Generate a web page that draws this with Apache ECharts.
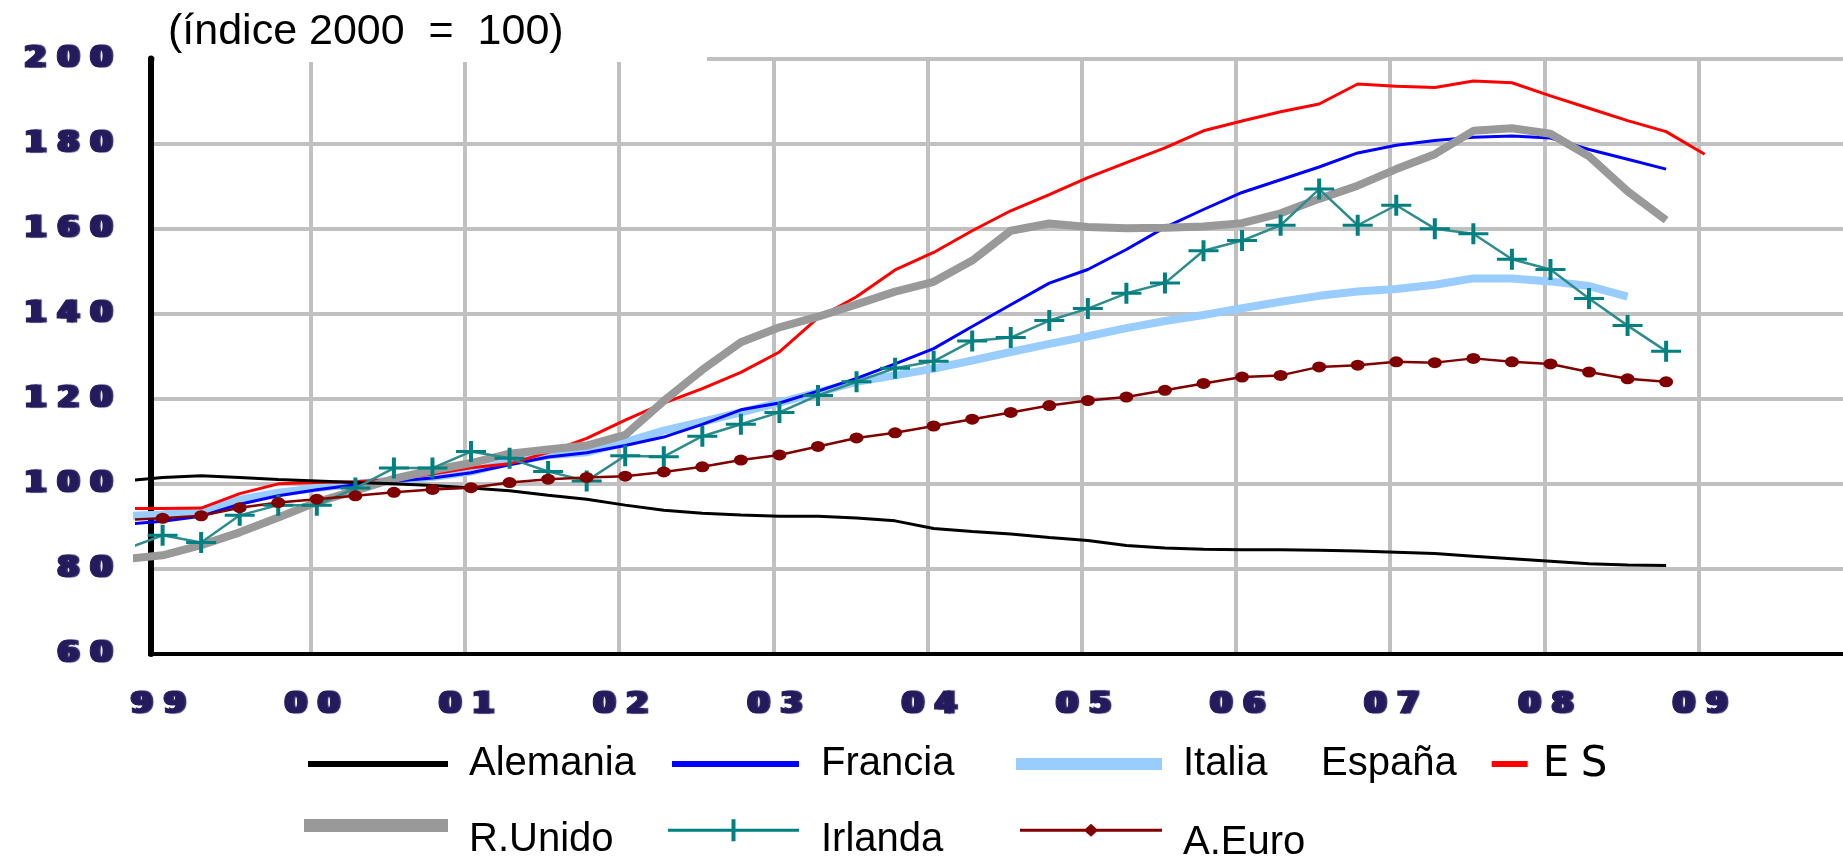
<!DOCTYPE html>
<html>
<head>
<meta charset="utf-8">
<script src="https://cdn.jsdelivr.net/npm/echarts@6/dist/echarts.min.js"></script>
<style>html,body{margin:0;padding:0;background:#fff}#c{width:1843px;height:858px}</style>
</head>
<body>
<div id="c"></div>
<script>
// ---------- data ----------
const quarters = ['1998T4',
 '1999T1','1999T2','1999T3','1999T4','2000T1','2000T2','2000T3','2000T4',
 '2001T1','2001T2','2001T3','2001T4','2002T1','2002T2','2002T3','2002T4',
 '2003T1','2003T2','2003T3','2003T4','2004T1','2004T2','2004T3','2004T4',
 '2005T1','2005T2','2005T3','2005T4','2006T1','2006T2','2006T3','2006T4',
 '2007T1','2007T2','2007T3','2007T4','2008T1','2008T2','2008T3','2008T4',
 '2009T1'];
const yearTicks = [2000,2001,2002,2003,2004,2005,2006,2007,2008,2009];
const yearLabels = [1999,2000,2001,2002,2003,2004,2005,2006,2007,2008,2009];

const alemania = [100.7, 101.5,101.9,101.5,101.0, 100.7,100.3,100.0,99.6, 99.0,98.4,97.3,96.4, 95.0,93.8,93.1,92.7, 92.4,92.4,92.0,91.3, 89.5,88.8,88.2,87.4, 86.7,85.5,84.9,84.6, 84.5,84.5,84.4,84.2, 83.9,83.6,83.0,82.4, 81.8,81.2,80.9,80.8, null];
const francia = [90.5, 91.2,92.4,95.2,97.2, 98.6,99.8,100.6,101.4, 102.6,104.5,106.3,107.3, 109.0,111.0,114.0,117.4, 119.0,121.8,124.8,128.2, 131.8,137.0,142.1,147.2, 150.4,155.1,160.3,164.5, 168.5,171.5,174.5,177.8, 179.6,180.7,181.5,181.8, 181.3,178.6,176.3,174.0, null];
const italia = [92.4, 92.8,93.6,96.3,97.9, 99.0,100.0,100.8,101.6, 102.9,105.1,106.7,107.4, 109.8,112.5,114.6,116.8, 119.1,121.5,124.0,125.5, 127.1,129.0,131.0,132.9, 134.7,136.6,138.3,139.7, 141.3,142.8,144.2,145.2, 145.8,146.8,148.3,148.3, 147.6,146.5,144.0,null, null];
const espana = [94.2, 94.2,94.3,97.7,100.0, 100.3,100.5,101.0,102.3, 103.8,104.7,107.4,110.7, 115.0,119.0,122.4,126.2, 131.0,139.0,144.0,150.3, 154.4,159.5,164.2,168.0, 172.0,175.5,179.0,183.0, 185.3,187.5,189.3,194.0, 193.5,193.2,194.7,194.3, 191.2,188.3,185.4,182.8, 177.5];
const runido = [82.3, 83.2,85.6,88.6,92.1, 95.7,98.4,101.2,103.2, 104.9,107.1,108.1,109.0, 111.5,119.5,126.8,133.3, 136.8,139.3,142.2,145.2, 147.5,152.5,159.5,161.2, 160.4,160.1,160.2,160.5, 161.3,163.6,167.0,170.1, 174.0,177.5,183.0,183.6, 182.3,177.0,168.8,162.0, null];
const irlanda = [84.5, 87.9,86.2,92.6,95.0, 95.0,99.0,103.7,103.7, 107.6,106.0,102.9,100.7, 106.6,106.4,111.2,114.0, 116.8,120.8,124.0,127.2, 128.8,133.6,134.4,138.4, 141.2,144.8,147.2,154.8, 157.2,160.8,169.3,160.8, 165.5,160.0,158.8,152.8, 150.4,143.6,137.2,131.2, null];
const aeuro = [91.5, 91.9,92.5,94.4,95.6, 96.4,97.2,98.0,98.7, 99.1,100.3,101.1,101.5, 101.8,102.8,104.0,105.6, 106.8,108.8,110.8,112.0, 113.6,115.2,116.8,118.4, 119.6,120.4,122.0,123.6, 125.1,125.5,127.5,127.9, 128.7,128.5,129.5,128.7, 128.2,126.3,124.7,124.0, null];

const titleText = '(índice 2000  =  100)';

// ---------- helpers ----------
const QOFF = [0.04, 0.29, 0.54, 0.79];
function qpos(q) { return +q.slice(0, 4) + QOFF[+q.slice(5) - 1]; }
function pairs(arr) { return quarters.map((q, i) => [qpos(q), arr[i]]); }
function wide(s) { return String(s).split('').map(c => '{d|' + c + '}').join(''); }

const LABEL_COLOR = '#231b5c';
const DIG = {width: 33, align: 'center', fontSize: 31, fontWeight: 'bold', fontFamily: 'DejaVu Sans',
  color: LABEL_COLOR, lineHeight: 31, textBorderColor: LABEL_COLOR, textBorderWidth: 1,
  textShadowColor: LABEL_COLOR, textShadowBlur: 1, textShadowOffsetX: 4, textShadowOffsetY: 0};
const LFONT = {fontFamily: 'Liberation Sans, Arial, sans-serif', fontSize: 40, color: '#000', lineHeight: 40};

function line(name, data, color, width, extra) {
  return Object.assign({
    type: 'line', name: name, data: pairs(data), symbol: 'none',
    lineStyle: {color: color, width: width}, itemStyle: {color: color},
    clip: true, silent: true, emphasis: {disabled: true}, connectNulls: false
  }, extra || {});
}

function legend(name, left, top, w, h, icon, color, pad, align) {
  return {
    show: true, data: [{name: name, icon: icon, itemStyle: {color: color, borderWidth: 0}}],
    left: left, top: top, itemWidth: w, itemHeight: h, padding: 0,
    selectedMode: false, symbolKeepAspect: false, align: align || 'left',
    textStyle: Object.assign({}, LFONT, {padding: pad})
  };
}

const PLUS = 'path://M0,9H13V0H17V9H30V12H17V21H13V12H0Z';
// legend icons: line drawn in the upper part of the icon box (tiny invisible point extends the box)
const ICON_RU = 'path://M0,0H144V13H0Z M144,42h0.01v0.01h-0.01z';
const ICON_IR = 'path://M0,9.5H63.5V0H67.5V9.5H131V12.5H67.5V22H63.5V12.5H0Z M131,41.4h0.01v0.01h-0.01z';
const ICON_AE = 'path://M0,5H65.5L71,0L76.5,5H142V8H76.5L71,13L65.5,8H0Z M142,38.4h0.01v0.01h-0.01z';

const chart = echarts.init(document.getElementById('c'), null, {renderer: 'canvas'});
chart.setOption({
  animation: false,
  backgroundColor: '#fff',
  title: {
    text: titleText, left: 168, top: 11, padding: 0,
    textStyle: {fontFamily: 'Liberation Sans, Arial, sans-serif', fontSize: 43, fontWeight: 'normal', color: '#000', lineHeight: 43}
  },
  grid: {left: 137, right: 0, top: 58.5, bottom: 204, containLabel: false, outerBoundsMode: 'none'},
  xAxis: {
    type: 'value', min: 1998.874, max: 2009.937,
    axisLine: {show: true, onZero: false, lineStyle: {color: '#000', width: 4}},
    axisTick: {show: false, customValues: yearTicks},
    splitLine: {show: true, lineStyle: {color: '#c0c0c0', width: 4}},
    axisLabel: {customValues: yearLabels, margin: 35, formatter: v => wide(String(v).slice(2)), rich: {d: DIG}}
  },
  yAxis: {
    type: 'value', min: 60, max: 200, interval: 20, offset: -14,
    axisLine: {show: true, onZero: false, lineStyle: {color: '#000', width: 6}},
    axisTick: {show: false},
    splitLine: {show: true, lineStyle: {color: '#c0c0c0', width: 4}},
    axisLabel: {margin: 35, formatter: v => wide(v), rich: {d: DIG}}
  },
  legend: [
    legend('Alemania', 308, 744, 140, 6, 'rect', '#000000', [0, 0, 0, 16]),
    legend('Francia', 672, 744, 127, 6, 'rect', '#0000ff', [0, 0, 0, 17]),
    legend('Italia', 1016, 744, 146, 12, 'rect', '#99ccff', [0, 0, 0, 16]),
    legend('España', 1321, 744, 36, 6, 'rect', '#ff0000', [0, 30, 0, 0], 'right'),
    legend('R.Unido', 304, 819, 144, 42, ICON_RU, '#999999', [0, 0, 0, 16]),
    legend('Irlanda', 668, 819.3, 131, 41.4, ICON_IR, '#008080', [0, 0, 0, 17]),
    legend('A.Euro', 1020, 823, 142, 38.4, ICON_AE, '#800000', [0, 0, 0, 16])
  ],
  graphic: [
    {type: 'rect', shape: {x: 120, y: 50, width: 28, height: 612}, style: {fill: '#fff'}, z: 1, silent: true},
    {type: 'rect', shape: {x: 155, y: 52, width: 552, height: 10}, style: {fill: '#fff'}, z: 1, silent: true},
    {type: 'text', left: 1537, top: 744, z: 5, silent: true,
     style: {text: '{c|E}{c|S}', rich: {c: {width: 38, align: 'center', fontSize: 42, fontFamily: 'DejaVu Sans', color: '#14144a', lineHeight: 42}}}}
  ],
  series: [
    line('Italia', italia, '#99ccff', 8),
    line('Francia', francia, '#0000ff', 3),
    line('España', espana, '#ff0000', 3),
    line('R.Unido', runido, '#999999', 8),
    line('Alemania', alemania, '#000000', 3),
    line('Irlanda', irlanda, '#008080', 2.5, {symbol: PLUS, symbolSize: [30, 21], showSymbol: true, lineStyle: {color: '#2f8c8c', width: 2.5}}),
    line('A.Euro', aeuro, '#800000', 2.5, {symbol: 'circle', symbolSize: [14, 11], showSymbol: true, lineStyle: {color: '#800000', width: 2.5}})
  ]
});
</script>
</body>
</html>
